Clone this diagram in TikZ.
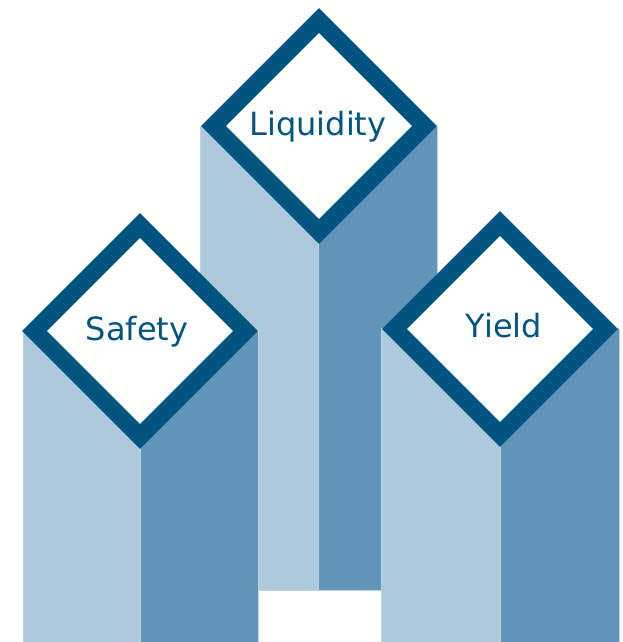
\documentclass[tikz,border=0pt]{standalone}
\usepackage{fontspec}
\setmainfont{DejaVu Sans}
\definecolor{lightcol}{RGB}{175,201,220}
\definecolor{darkcol}{RGB}{97,150,186}
\definecolor{navy}{RGB}{0,84,128}
\definecolor{edgecol}{RGB}{190,212,228}
\begin{document}
\begin{tikzpicture}[x=1pt,y=-1pt,
  lightbar/.style={fill=lightcol, draw=edgecol, line width=0.6pt},
  darkbar/.style={fill=darkcol, draw=edgecol, line width=0.6pt},
  frame/.style={draw=navy, fill=white, line width=17.5pt, line join=miter},
  lbl/.style={text=navy, font=\fontsize{32}{38}\selectfont, inner sep=0pt, anchor=base}]
\useasboundingbox (0,0) rectangle (622,642);
\fill[white] (0,0) rectangle (622,642);
% centre column
\path[lightbar] (200,126) rectangle (318,590);
\path[darkbar] (318,126) rectangle (437,590);
% left column
\path[lightbar] (23,331) rectangle (140,643);
\path[darkbar] (140,331) rectangle (258,643);
% right column
\path[lightbar] (381,328) rectangle (500,643);
\path[darkbar] (500,328) rectangle (619,643);
% diamonds
\coordinate (cC) at (319,126);
\coordinate (cL) at (140,331);
\coordinate (cR) at (500,329);
\foreach \c in {cC,cL,cR}{
  \draw[frame] ([yshift=-105.5pt]\c) -- ([xshift=105.5pt]\c) -- ([yshift=105.5pt]\c) -- ([xshift=-105.5pt]\c) -- cycle;
}
\node[lbl] (liq) at (318,135) {Liquidity};
\node[lbl] (saf) at (137,340) {Safety};
\node[lbl] (yie) at (504,337) {Yield};
\end{tikzpicture}
\end{document}
